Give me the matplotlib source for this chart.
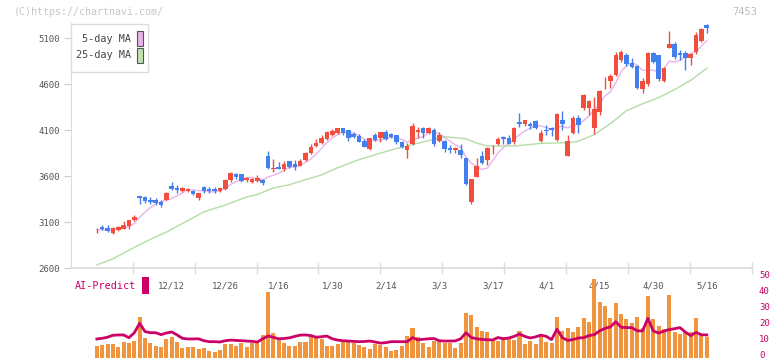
import numpy as np
import pandas as pd
import matplotlib
matplotlib.use("Agg")
import matplotlib.pyplot as plt
import matplotlib.transforms as mtransforms
from matplotlib.patches import Rectangle

plt.rcParams['font.family'] = ['DejaVu Sans Mono']

# --- data (daily candles, 11/21 .. 5/16) ---
opens = [2998, 3020, 3049, 3038, 2984, 3013, 3027, 3056, 3122, 3383,
         3372, 3339, 3336, 3320, 3342, 3491, 3473, 3442, 3436, 3437,
         3361, 3480, 3458, 3462, 3432, 3459, 3557, 3622, 3622, 3552,
         3540, 3548, 3560, 3817, 3674, 3703, 3678, 3763, 3730, 3710,
         3774, 3853, 3926, 3959, 4002, 4046, 4068, 4118, 4096, 4057,
         4035, 3980, 3894, 4046, 4013, 4078, 4057, 4046, 3970, 3883,
         3948, 4080, 4122, 4070, 4100, 3980, 3980, 3906, 3888, 3886,
         3799, 3321, 3593, 3817, 3774, 3900, 3948, 4024, 4013, 3970,
         4187, 4165, 4165, 4198, 3980, 4098, 4122, 3991, 4209, 3817,
         4068, 4230, 4339, 4339, 4122, 4296, 4608, 4633, 4698, 4861,
         4915, 4828, 4796, 4546, 4600, 4937, 4915, 4633, 4991, 5035,
         4937, 4937, 4883, 4948, 5067, 5241]
highs = [3002, 3035, 3067, 3067, 3042, 3053, 3111, 3125, 3176, 3385,
         3386, 3368, 3365, 3339, 3430, 3535, 3502, 3480, 3473, 3448,
         3419, 3491, 3484, 3480, 3470, 3567, 3640, 3628, 3622, 3593,
         3582, 3611, 3564, 3872, 3788, 3749, 3759, 3763, 3774, 3780,
         3861, 3948, 4002, 4046, 4090, 4111, 4125, 4118, 4100, 4078,
         4057, 4002, 4013, 4068, 4078, 4096, 4068, 4046, 3980, 3962,
         4176, 4133, 4133, 4133, 4122, 4078, 3991, 3941, 3915, 3951,
         3799, 3571, 3796, 3872, 3915, 3937, 4024, 4035, 4046, 4133,
         4285, 4209, 4187, 4209, 4100, 4154, 4133, 4285, 4307, 4046,
         4252, 4263, 4491, 4426, 4459, 4535, 4676, 4709, 4948, 4970,
         4937, 4883, 4807, 4665, 4948, 4948, 4915, 4785, 5176, 5056,
         4970, 4959, 4937, 5165, 5209, 5252]
lows = [2998, 2980, 3013, 2988, 2966, 3006, 3024, 3027, 3111, 3292,
        3303, 3296, 3290, 3260, 3339, 3451, 3419, 3430, 3425, 3395,
        3339, 3419, 3412, 3418, 3425, 3444, 3538, 3567, 3538, 3538,
        3527, 3538, 3505, 3676, 3647, 3672, 3650, 3687, 3665, 3705,
        3763, 3840, 3915, 3948, 3991, 4035, 4060, 4046, 3980, 4013,
        3970, 3910, 3883, 3980, 3965, 3991, 4013, 3944, 3901, 3796,
        3937, 4013, 4013, 4057, 3926, 3965, 3861, 3854, 3854, 3799,
        3500, 3300, 3593, 3730, 3720, 3839, 3937, 3948, 3948, 3948,
        4133, 4144, 4110, 4111, 3970, 4046, 4035, 3980, 4100, 3817,
        4057, 4068, 4317, 4263, 4057, 4263, 4546, 4557, 4687, 4839,
        4796, 4774, 4546, 4502, 4580, 4828, 4633, 4622, 4991, 4872,
        4861, 4752, 4807, 4926, 5056, 5154]
closes = [3002, 3026, 3022, 3002, 3031, 3042, 3067, 3122, 3154, 3366,
          3328, 3315, 3312, 3290, 3415, 3458, 3450, 3472, 3462, 3402,
          3419, 3440, 3432, 3442, 3468, 3560, 3633, 3590, 3545, 3582,
          3565, 3580, 3526, 3690, 3678, 3678, 3731, 3700, 3700, 3763,
          3850, 3915, 3959, 4013, 4078, 4090, 4118, 4070, 4010, 4028,
          3975, 3910, 4013, 3993, 4078, 4005, 4026, 3972, 3910, 3926,
          4144, 4098, 4070, 4122, 3950, 4046, 3896, 3888, 3906, 3823,
          3508, 3571, 3709, 3743, 3904, 3906, 4002, 4004, 3950, 4122,
          4167, 4209, 4146, 4124, 4068, 4092, 4102, 4274, 4167, 3980,
          4230, 4156, 4480, 4415, 4328, 4524, 4614, 4687, 4915, 4948,
          4820, 4787, 4560, 4633, 4937, 4841, 4655, 4774, 5035, 4895,
          4920, 4885, 4926, 5133, 5198, 5211]

# 25-day moving average, read at points along the green line
ma25_idx = [1, 4, 8, 11, 14, 18, 21, 25, 29, 31, 34, 37, 40, 43, 46, 50, 56,
            62, 66, 70, 72, 74, 79, 84, 89, 91, 94, 97, 100, 103, 106, 109,
            112, 115]
ma25_val = [2633, 2700, 2825, 2912, 2990, 3115, 3210, 3285, 3372, 3400, 3470,
            3505, 3560, 3611, 3690, 3778, 3883, 3970, 4027, 4005, 3958, 3926,
            3926, 3955, 3962, 3978, 4050, 4170, 4310, 4385, 4452, 4540, 4640,
            4770]

# lower panel (starts at the 2nd candle)
volume = [7.5, 8.1, 8.7, 8.7, 6.7, 10.2, 9.2, 10.8, 25.6, 12.7,
          9.6, 7.5, 6.9, 12.1, 13.3, 9.8, 6.5, 7.1, 7.1, 5.8,
          6.5, 4.6, 4.0, 5.2, 8.7, 8.7, 7.5, 9.6, 7.1, 9.2,
          9.2, 14.4, 41.2, 15.8, 12.7, 9.6, 7.5, 7.5, 10.2, 10.2,
          13.8, 13.3, 11.7, 7.5, 7.5, 8.7, 10.6, 11.3, 9.2, 8.1,
          7.1, 5.6, 8.7, 8.1, 7.1, 4.6, 5.0, 7.5, 13.8, 18.8,
          12.9, 9.6, 6.7, 10.6, 11.3, 9.6, 9.2, 6.0, 9.6, 28.3,
          26.9, 19.6, 17.1, 16.5, 11.3, 10.6, 12.9, 11.7, 11.5, 16.9,
          8.8, 10.6, 8.8, 14.0, 10.0, 9.4, 25.8, 16.9, 19.0, 16.3,
          19.6, 25.2, 22.5, 49.4, 35.2, 32.5, 25.2, 34.4, 27.5, 24.4,
          21.9, 25.8, 19.0, 38.8, 24.4, 20.0, 18.1, 39.4, 16.3, 15.0,
          16.3, 16.3, 25.0, 15.0, 13.1]
ai_predict = [11.9, 12.3, 13.0, 14.2, 14.4, 14.4, 12.7, 15.8, 21.7, 16.5,
              15.8, 15.8, 14.6, 15.6, 16.3, 14.4, 12.3, 11.9, 11.9, 12.0,
              10.8, 10.2, 10.2, 10.0, 10.8, 11.2, 11.0, 10.8, 10.6, 10.4,
              10.0, 12.0, 13.8, 12.9, 12.0, 12.2, 12.6, 13.5, 14.3, 14.4,
              14.0, 13.0, 13.3, 13.7, 12.0, 11.2, 10.8, 10.6, 10.4, 10.2,
              10.3, 10.6, 10.0, 9.3, 9.6, 10.2, 10.2, 10.2, 10.2, 12.7,
              11.4, 11.7, 12.0, 12.2, 10.8, 10.6, 10.6, 10.7, 12.0, 15.8,
              12.8, 12.0, 11.6, 11.4, 11.3, 12.8, 12.0, 12.5, 13.5, 15.0,
              13.5, 12.5, 13.2, 14.3, 13.5, 11.5, 18.0, 12.7, 11.0, 11.5,
              12.5, 12.7, 14.0, 14.6, 17.0, 18.5, 19.5, 22.7, 19.2, 19.0,
              19.0, 17.0, 16.9, 24.8, 16.9, 15.6, 16.8, 17.8, 18.3, 19.0,
              16.2, 14.0, 16.0, 14.5, 14.4]

date_labels = ['12/12', '12/26', '1/16', '1/30', '2/14', '3/3', '3/17',
               '4/1', '4/15', '4/30', '5/16']
label_idx = [15, 25, 35, 45, 55, 65, 75, 85, 95, 105, 115]

RED = '#f24e3e'
BLUE = '#4180ee'
MAGENTA = '#cc0066'
GRID = '#dddddd'
W, H = 772, 361


def fx(px):
    return px / W


def fy(py):
    return 1 - py / H


fig = plt.figure(figsize=(W / 100, H / 100), dpi=100)
ax = fig.add_axes([fx(70.7), fy(268), fx(752) - fx(70.7), fy(23.3) - fy(268)])
axv = fig.add_axes([fx(70.7), fy(358), fx(752) - fx(70.7), fy(278) - fy(358)])

x = np.arange(len(closes))
xlim = (-3.89, 123.46)

# candles
o = np.array(opens)
c = np.array(closes)
up = c >= o
colors = np.where(up, RED, BLUE)
body_lo = np.minimum(o, c)
body_h = np.maximum(np.abs(c - o), 8)
ax.vlines(x, lows, highs, colors=colors, linewidth=1, zorder=3)
ax.bar(x, body_h, bottom=body_lo, width=0.85, color=colors, zorder=4)

# moving averages
ma5 = pd.Series(closes).rolling(5, min_periods=1).mean()
ax.plot(x[1:], ma5[1:], color='#e8b4ea', lw=1, zorder=2)
ax.plot(ma25_idx, ma25_val, color='#b5dca8', lw=1, zorder=2)

ax.set_xlim(*xlim)
ax.set_ylim(2600, 5260)
ax.set_yticks([2600, 3100, 3600, 4100, 4600, 5100])
ax.tick_params(axis='y', length=5, color='#cccccc', labelcolor='#555555',
               labelsize=6.5, pad=3)
for s in ['top', 'right']:
    ax.spines[s].set_visible(False)
ax.spines['left'].set_color(GRID)
ax.spines['bottom'].set_color(GRID)
ax.spines['bottom'].set_linewidth(1.3)
ax.set_xticks(np.linspace(xlim[0], xlim[1], 12)[1:])
ax.set_xticklabels([])
ax.tick_params(axis='x', which='major', direction='inout', length=8,
               color=GRID, width=1)
ax.set_xticks(label_idx, minor=True)
ax.set_xticklabels(date_labels, minor=True)
ax.tick_params(axis='x', which='minor', length=0, pad=10,
               labelcolor='#555555', labelsize=6.5)

# lower panel
xi = np.arange(1, len(closes))
axv.bar(xi, volume, width=0.75, color='#f0953e', zorder=2)
axv.plot(xi, ai_predict, color=MAGENTA, lw=2.0, zorder=3)
axv.set_xlim(*xlim)
axv.set_ylim(0, 50)
axv.patch.set_alpha(0)
for s in axv.spines.values():
    s.set_visible(False)
axv.set_xticks([])
axv.yaxis.tick_right()
axv.set_yticks([0, 10, 20, 30, 40, 50])
axv.tick_params(axis='y', length=0, pad=5, labelcolor=MAGENTA, labelsize=6.5)
nudge = mtransforms.ScaledTranslation(0, 2.5 / 72, fig.dpi_scale_trans)
for lbl in axv.get_yticklabels():
    lbl.set_transform(lbl.get_transform() + nudge)

# header texts
fig.text(fx(14), fy(12), '(C)https://chartnavi.com/', color='#c8c8c8',
         fontsize=7.2, va='center', ha='left')
fig.text(fx(757), fy(12), '7453', color='#bbbbbb', fontsize=7.5,
         va='center', ha='right')

# legend box
fig.add_artist(Rectangle((fx(70.7), fy(72)), fx(148) - fx(70.7), fy(24) - fy(72),
                         transform=fig.transFigure, facecolor='white',
                         edgecolor=GRID, lw=1, zorder=5))
for label, col, yc in [('5-day MA', '#e8b4ea', 38.5), ('25-day MA', '#bfe0b2', 55.5)]:
    fig.text(fx(131), fy(yc), label, color='#444444', fontsize=7.3,
             ha='right', va='center', zorder=6)
    fig.add_artist(Rectangle((fx(136.5), fy(yc + 7.5)), fx(6), fy(0) - fy(15),
                             transform=fig.transFigure, facecolor=col,
                             edgecolor='#555555', lw=0.8, zorder=6))

# AI-Predict label
fig.text(fx(75), fy(286), 'AI-Predict', color=MAGENTA, fontsize=7.3,
         ha='left', va='center')
fig.add_artist(Rectangle((fx(142), fy(294)), fx(7), fy(0) - fy(17),
                         transform=fig.transFigure, facecolor=MAGENTA,
                         edgecolor='none'))

fig.savefig('out.png', dpi=100)
